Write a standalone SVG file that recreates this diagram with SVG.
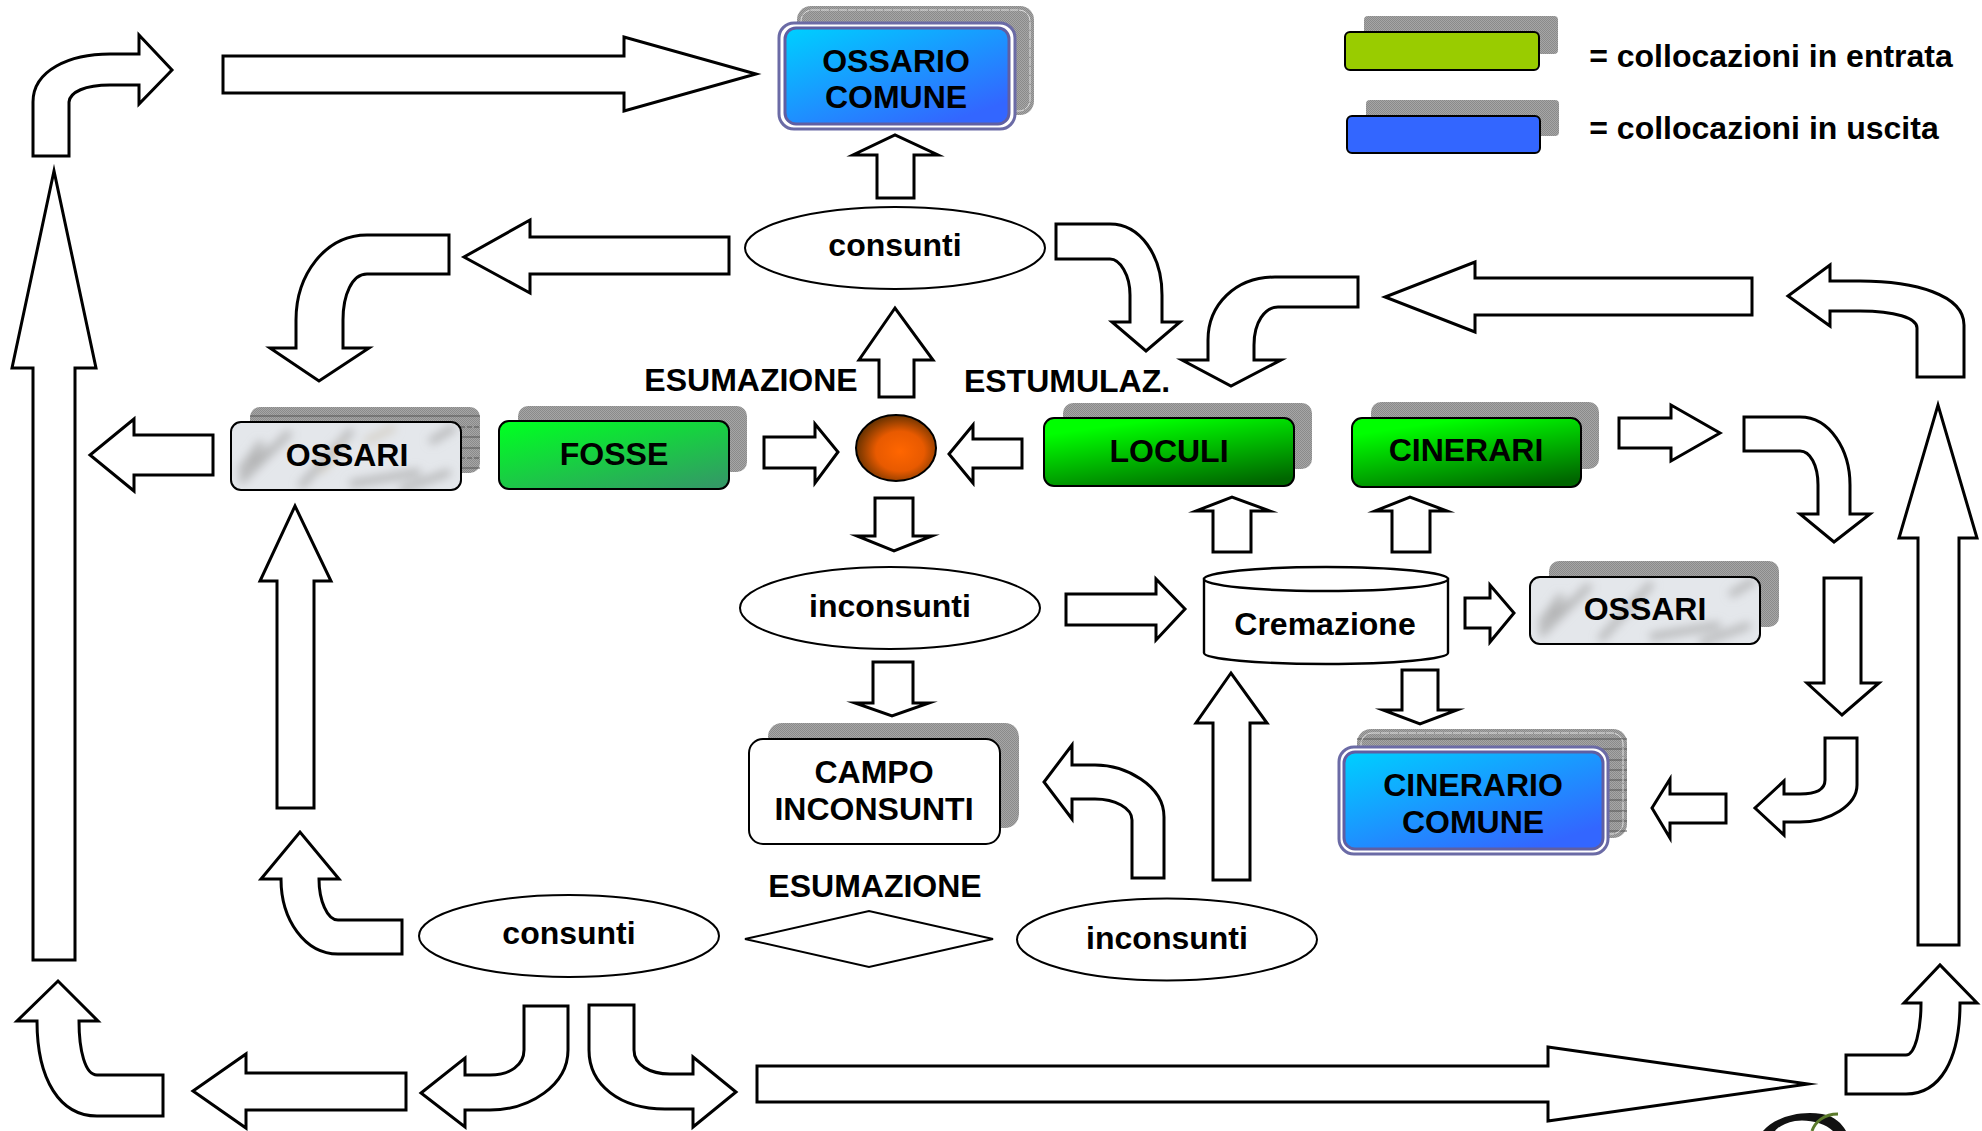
<svg xmlns="http://www.w3.org/2000/svg" width="1982" height="1131" viewBox="0 0 1982 1131">
<defs>
<pattern id="dither" width="2" height="2" patternUnits="userSpaceOnUse"><rect width="2" height="2" fill="#a6a6a6"/><rect width="1" height="1" fill="#8a8a8a"/><rect x="1" y="1" width="1" height="1" fill="#8a8a8a"/></pattern>
<linearGradient id="gBlue" x1="0.08" y1="0" x2="0.92" y2="1"><stop offset="0" stop-color="#00ccff"/><stop offset="0.9" stop-color="#3366ff"/></linearGradient>
<linearGradient id="gFosse" x1="0.1" y1="0" x2="0.9" y2="1"><stop offset="0" stop-color="#00ff22"/><stop offset="1" stop-color="#339966"/></linearGradient>
<linearGradient id="gGreen" x1="0.25" y1="0" x2="0.75" y2="1"><stop offset="0.1" stop-color="#00ff00"/><stop offset="1" stop-color="#006600"/></linearGradient>
<radialGradient id="gOrb" cx="0.55" cy="0.55" r="0.55"><stop offset="0" stop-color="#ff6600"/><stop offset="0.55" stop-color="#e85a00"/><stop offset="1" stop-color="#6b3300"/></radialGradient>
<filter id="blur3" x="-20%" y="-20%" width="140%" height="140%"><feGaussianBlur stdDeviation="5"/></filter>
<clipPath id="cpO1"><rect x="231" y="422" width="230" height="68" rx="10"/></clipPath>
<clipPath id="cpO2"><rect x="1530" y="577" width="230" height="67" rx="10"/></clipPath>
</defs>
<style>
.a{fill:#fff;stroke:#000;stroke-width:3;stroke-linejoin:miter;stroke-miterlimit:10}
.e{fill:#fff;stroke:#000;stroke-width:2}
.s{fill:url(#dither)}
.b{stroke:#000;stroke-width:2}
.l{stroke:#555;stroke-width:1}
.ld{stroke:#555;stroke-width:1;stroke-dasharray:5 2}
.w{fill:none;stroke:#fff;stroke-width:1;stroke-dasharray:8 1;opacity:.7}
.r1{fill:#fff;stroke:#6b6ba6;stroke-width:3}
.r2{fill:url(#gBlue);stroke:#5f5fa3;stroke-width:3}
.m{fill:none;stroke:#a4a4a4;stroke-width:7;opacity:.75}
text{font-family:"Liberation Sans",Arial,sans-serif;font-weight:bold;font-size:32px;fill:#000;text-anchor:middle}
</style>

<g id="connectors">
<path class="a" d="M33,156V102C33,70 70,54 110,54H139V35L172,70L139,104V85H110C85,85 70,92 69,102V156Z"/>
<path class="a" d="M223,56H624V37L756,74L624,111V93H223Z"/>
<path class="a" d="M33,960V368H12L54,171L96,368H75V960Z"/>
<path class="a" d="M163,1075H97C85,1075 79,1050 79,1021H98L58,981L17,1021H37C37,1080 60,1116 97,1116H163Z"/>
<path class="a" d="M406,1073H246V1054L193,1091L246,1128V1110H406Z"/>
<path class="a" d="M524,1006H568V1050C568,1085 530,1110 490,1110H465V1127L421,1093L465,1058V1075H490C510,1075 524,1065 524,1050Z"/>
<path class="a" d="M589,1005H634V1050C634,1065 650,1074 670,1074H693V1057L736,1092L693,1127V1109H665C620,1109 589,1085 589,1050Z"/>
<path class="a" d="M757,1066H1548V1047L1808,1084L1548,1121V1102H757Z"/>
<path class="a" d="M1846,1055H1906C1915,1055 1921,1030 1921,1003H1904L1940,965L1977,1003H1960C1960,1060 1940,1094 1906,1094H1846Z"/>
<path class="a" d="M1918,945V538H1899L1938,405L1977,538H1959V945Z"/>
<path class="a" d="M1964,377V325C1964,295 1915,281 1860,281H1830V265L1788,296L1830,326V311H1860C1895,311 1917,318 1917,328V377Z"/>
<path class="a" d="M1752,278H1475V262L1385,297L1475,332V315H1752Z"/>
<path class="a" d="M1358,277H1275C1235,277 1208,305 1208,340V360H1182L1231,386L1281,360H1254V345C1254,322 1265,307 1278,307H1358Z"/>
<path class="a" d="M1056,224H1110C1140,224 1162,255 1162,295V322H1180L1146,351L1112,322H1130V295C1130,275 1120,259 1110,259H1056Z"/>
<path class="a" d="M877,198V155H853L895,135L938,155H914V198Z"/>
<path class="a" d="M729,237H530V220L464,257L530,293V274H729Z"/>
<path class="a" d="M449,235H367C325,235 296,275 296,320V348H270L319,381L369,348H343V320C343,295 352,274 367,274H449Z"/>
<path class="a" d="M213,435H134V419L90,455L134,491V475H213Z"/>
<path class="a" d="M277,808V581H260L295,506L331,581H314V808Z"/>
<path class="a" d="M402,920H338C327,920 319,900 319,879H339L300,832L261,879H281C281,920 305,954 338,954H402Z"/>
<path class="a" d="M1066,594H1156V579L1185,609L1156,640V625H1066Z"/>
<path class="a" d="M1465,598H1490V585L1514,613L1490,642V628H1465Z"/>
<path class="a" d="M1213,552V511H1196L1232,497L1270,511H1251V552Z"/>
<path class="a" d="M1392,552V511H1375L1410,497L1447,511H1430V552Z"/>
<path class="a" d="M1402,670V710H1383L1420,724L1457,710H1438V670Z"/>
<path class="a" d="M1726,794H1670V779L1652,808L1670,838V823H1726Z"/>
<path class="a" d="M1825,738H1857V785C1857,805 1830,822 1800,822H1784V835L1755,808L1784,781V794H1800C1815,794 1825,790 1825,780Z"/>
<path class="a" d="M1824,578V683H1807L1842,715L1879,683H1861V578Z"/>
<path class="a" d="M1619,418H1671V405L1720,433L1671,461V448H1619Z"/>
<path class="a" d="M1744,417H1800C1830,417 1850,450 1850,485V514H1870L1834,542L1800,514H1818V485C1818,465 1810,451 1800,451H1744Z"/>
<path class="a" d="M764,437H815V424L838,452L815,483V468H764Z"/>
<path class="a" d="M1022,439H973V425L949,454L973,483V468H1022Z"/>
<path class="a" d="M879,397V360H859L895,308L933,360H914V397Z"/>
<path class="a" d="M875,498V536H857L894,551L932,536H913V498Z"/>
<path class="a" d="M873,662V703H855L892,716L929,703H913V662Z"/>
<path class="a" d="M1164,878V817C1164,785 1125,765 1095,765H1072V745L1044,782L1072,819V799H1095C1115,799 1132,808 1132,820V878Z"/>
<path class="a" d="M1213,880V723H1196L1231,673L1267,723H1250V880Z"/>
</g>

<g id="legend-entrata">
<rect class="s" x="1364" y="16" width="194" height="38" rx="4"/>
<rect class="b" x="1345" y="32" width="194" height="38" rx="5" fill="#99cc00"/>
<text x="1771" y="67">= collocazioni in entrata</text>
</g>
<g id="legend-uscita">
<rect class="s" x="1366" y="100" width="193" height="36" rx="4"/>
<rect class="b" x="1347" y="116" width="193" height="37" rx="5" fill="#3366ff"/>
<text x="1764" y="139">= collocazioni in uscita</text>
</g>

<g id="ossario-comune">
<rect class="s" x="797" y="6" width="237" height="109" rx="14"/>
<rect class="w" x="801" y="10" width="229" height="101" rx="11"/>
<rect class="r1" x="779" y="23" width="236" height="106" rx="15"/>
<rect class="r2" x="785" y="28" width="224" height="96" rx="11"/>
<text x="896" y="72">OSSARIO</text><text x="896" y="108">COMUNE</text>
</g>

<g id="consunti-top"><ellipse class="e" cx="895" cy="248" rx="150" ry="41"/><text x="895" y="256">consunti</text></g>
<g id="label-esumazione-top"><text x="751" y="391">ESUMAZIONE</text></g>
<g id="label-estumulaz"><text x="1067" y="392">ESTUMULAZ.</text></g>

<g id="ossari-left">
<rect class="s" x="250" y="407" width="230" height="66" rx="10"/>
<path class="l" d="M250,416H480M250,437H480M250,448H480M250,468H480"/><path class="ld" d="M250,427H480M250,458H480"/>
<rect x="231" y="422" width="230" height="68" rx="10" fill="#e4e7eb"/>
<g clip-path="url(#cpO1)"><g filter="url(#blur3)">
<path class="m" d="M240,482L290,432M300,487L352,430M262,442L240,472M350,484L420,472M430,442L455,427M400,490L450,472M250,464L275,447"/>
<path class="m" style="stroke:#cfc8bc" d="M365,442L395,427M320,472L345,442"/></g></g>
<rect x="231" y="422" width="230" height="68" rx="10" fill="none" stroke="#000" stroke-width="2"/>
<text x="347" y="466">OSSARI</text>
</g>

<g id="fosse">
<rect class="s" x="518" y="406" width="229" height="66" rx="10"/>
<rect class="b" x="499" y="421" width="230" height="68" rx="10" fill="url(#gFosse)"/>
<text x="614" y="465">FOSSE</text>
</g>

<g id="orb"><ellipse cx="896" cy="448" rx="40" ry="33" fill="url(#gOrb)" stroke="#000" stroke-width="2"/></g>

<g id="loculi">
<rect class="s" x="1063" y="403" width="249" height="66" rx="10"/>
<rect class="b" x="1044" y="418" width="250" height="68" rx="10" fill="url(#gGreen)"/>
<text x="1169" y="462">LOCULI</text>
</g>

<g id="cinerari">
<rect class="s" x="1371" y="402" width="228" height="67" rx="10"/>
<rect class="b" x="1352" y="418" width="229" height="69" rx="10" fill="url(#gGreen)"/>
<text x="1466" y="461">CINERARI</text>
</g>

<g id="inconsunti-mid"><ellipse class="e" cx="890" cy="608" rx="150" ry="41"/><text x="890" y="617">inconsunti</text></g>

<g id="cremazione">
<path class="a" style="stroke-width:2.4" d="M1204,579V653C1204,659 1258,664 1326,664C1394,664 1448,659 1448,653V579Z"/>
<ellipse class="a" style="stroke-width:2.4" cx="1326" cy="579" rx="122" ry="12"/>
<text x="1325" y="635">Cremazione</text>
</g>

<g id="ossari-right">
<rect class="s" x="1549" y="561" width="230" height="66" rx="10"/>
<rect x="1530" y="577" width="230" height="67" rx="10" fill="#e4e7eb"/>
<g clip-path="url(#cpO2)"><g filter="url(#blur3)">
<path class="m" d="M1540,635L1590,585M1600,640L1652,583M1562,595L1540,625M1650,637L1720,625M1730,595L1755,580M1700,643L1750,625M1550,617L1575,600"/></g></g>
<rect x="1530" y="577" width="230" height="67" rx="10" fill="none" stroke="#000" stroke-width="2"/>
<text x="1645" y="620">OSSARI</text>
</g>

<g id="campo-inconsunti">
<rect class="s" x="768" y="723" width="251" height="105" rx="14"/>
<rect class="b" x="749" y="739" width="251" height="105" rx="14" fill="#fff"/>
<text x="874" y="783">CAMPO</text><text x="874" y="820">INCONSUNTI</text>
</g>

<g id="cinerario-comune">
<rect class="s" x="1357" y="729" width="270" height="109" rx="14"/>
<path class="l" d="M1357,739H1627M1357,749H1627M1357,760H1627M1357,770H1627M1357,780H1627M1357,790H1627M1357,800H1627M1357,811H1627M1357,821H1627M1357,831H1627"/>
<rect class="w" x="1361" y="733" width="262" height="101" rx="11"/>
<rect class="r1" x="1339" y="747" width="269" height="107" rx="15"/>
<rect class="r2" x="1344" y="752" width="259" height="97" rx="11"/>
<text x="1473" y="796">CINERARIO</text><text x="1473" y="833">COMUNE</text>
</g>

<g id="label-esumazione-bottom"><text x="875" y="897">ESUMAZIONE</text></g>
<g id="esumazione-diamond"><path d="M745,939L869,911L993,939L869,967Z" fill="#fff" stroke="#000" stroke-width="2"/></g>
<g id="consunti-bottom"><ellipse class="e" cx="569" cy="936" rx="150" ry="41"/><text x="569" y="944">consunti</text></g>
<g id="inconsunti-bottom"><ellipse class="e" cx="1167" cy="939.5" rx="150" ry="41"/><text x="1167" y="949">inconsunti</text></g>

<g id="logo">
<path d="M1763,1131C1772,1120 1795,1110 1822,1114C1835,1116 1842,1124 1846,1131H1833C1825,1123 1808,1119 1795,1121C1785,1123 1778,1127 1775,1131Z" fill="#111"/>
<path d="M1812,1131C1815,1122 1824,1114 1838,1114" fill="none" stroke="#5b7a2b" stroke-width="3"/>
</g>
</svg>
